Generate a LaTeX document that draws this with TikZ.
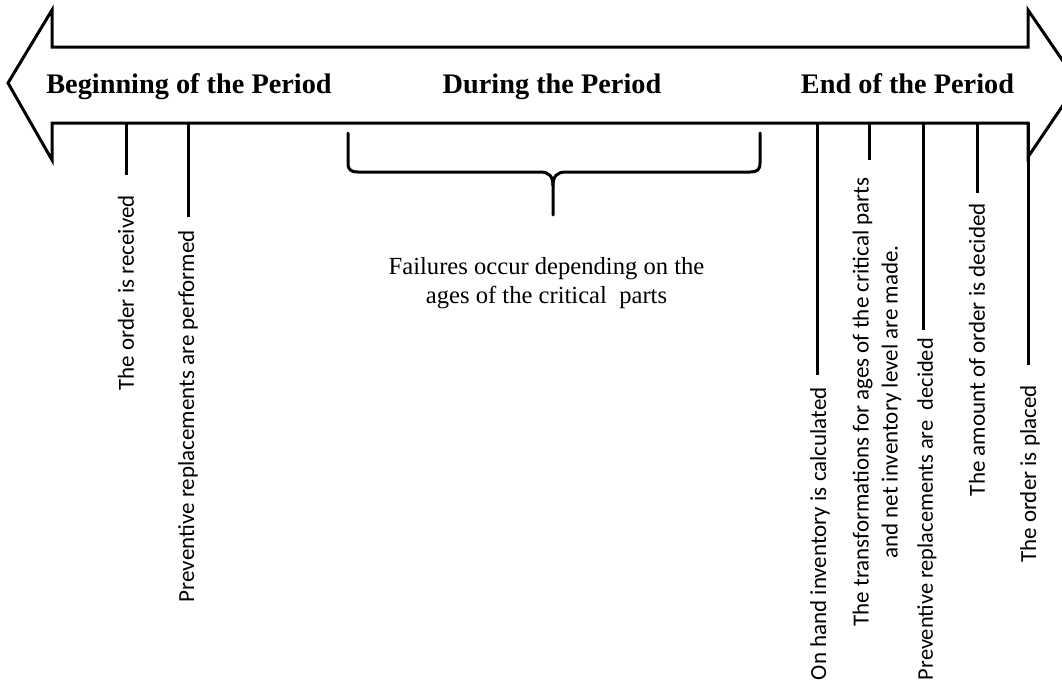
\documentclass[tikz,border=0pt]{standalone}
\usepackage{fontspec}
\setmainfont{Liberation Serif}
\newfontfamily\calfont{Carlito}
\begin{document}
\begin{tikzpicture}[x=1pt,y=-1pt,
  outline/.style={line width=3pt, line join=miter},
  head/.style={font=\fontsize{28.3}{32}\selectfont\bfseries, anchor=base, inner sep=0pt},
  lbl/.style={font=\calfont\fontsize{23}{29}\selectfont, rotate=90, anchor=east, inner sep=0pt},
  tick/.style={line width=3pt},
  brace/.style={line width=3pt, line cap=round, line join=round},
  note/.style={font=\fontsize{24.6}{29}\selectfont, align=center, inner sep=0pt}
]
\useasboundingbox (0,0) rectangle (1062,689);
% double arrow
\begin{scope}
\clip (0,0) rectangle (1062,689);
\draw[outline] (8,83) -- (52,10) -- (52,47) -- (1028,47) -- (1028,10) -- (1078,83)
  -- (1028,157) -- (1028,123) -- (52,123) -- (52,160) -- cycle;
\end{scope}
% headings
\node[head] (hb) at (189,93) {Beginning of the Period};
\node[head] (hd) at (552,93) {During the Period};
\node[head] (he) at (907.5,93) {End of the Period};
% ticks
\coordinate (s1) at (126,123);  \coordinate (e1) at (126,175);
\coordinate (s2) at (188,123);  \coordinate (e2) at (188,217);
\coordinate (s3) at (817,123);  \coordinate (e3) at (817,375);
\coordinate (s4) at (869,123);  \coordinate (e4) at (869,160);
\coordinate (s5) at (923,123);  \coordinate (e5) at (923,330);
\coordinate (s6) at (977,123);  \coordinate (e6) at (977,193);
\coordinate (s7) at (1028,123); \coordinate (e7) at (1028,365);
\foreach \i in {1,...,7} {\draw[tick] (s\i) -- (e\i);}
% labels
\node[lbl] (l1) at (126,195) {The order is received};
\node[lbl] (l2) at (188,230) {Preventive replacements are performed};
\node[lbl] (l3) at (820,387) {On hand inventory is calculated};
\node[lbl, anchor=center, align=center] (l4) at (877,402) {The transformations for ages of the critical parts\\and net inventory level are made.};
\node[lbl, font=\calfont\fontsize{22.4}{29}\selectfont] (l5) at (927,338) {Preventive replacements are\ \ decided};
\node[lbl] (l6) at (977,203) {The amount of order is decided};
\node[lbl] (l7) at (1030,385) {The order is placed};
% brace
\coordinate (bl) at (348,133);
\coordinate (br) at (760,133);
\coordinate (bt) at (553,215);
\draw[brace] (bl) -- (348,163) .. controls (348,170) and (351,172) .. (358,172)
  -- (540,172) .. controls (549,172) and (553,176) .. (553,186) -- (bt);
\draw[brace] (br) -- (760,163) .. controls (760,170) and (757,172) .. (750,172)
  -- (566,172) .. controls (557,172) and (553,176) .. (553,186);
\node[note] (fail) at (546.5,283) {Failures occur depending on the\\ages of the critical\ \ parts};
\end{tikzpicture}
\end{document}
